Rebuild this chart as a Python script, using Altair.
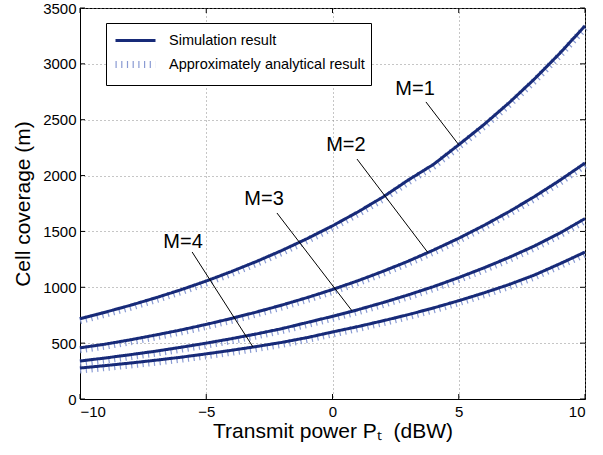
import altair as alt
import pandas as pd

# ---- data ----
x_vals = list(range(-10, 11))
m1 = [719, 777, 839, 906, 978, 1056, 1141, 1232, 1330, 1436, 1550,
      1674, 1808, 1960, 2100, 2276, 2457, 2653, 2865, 3094, 3340]
m2 = [458, 491, 530, 573, 618, 668, 721, 779, 841, 908, 980,
      1058, 1143, 1234, 1333, 1439, 1554, 1678, 1812, 1957, 2112]
m3 = [340, 367, 397, 428, 463, 500, 540, 583, 630, 685, 740,
      799, 863, 932, 1006, 1087, 1174, 1268, 1370, 1485, 1615]
m4 = [277, 299, 322, 347, 374, 404, 436, 470, 507, 550, 600,
      648, 700, 755, 815, 880, 950, 1025, 1110, 1210, 1315]
m_names = ["M=1", "M=2", "M=3", "M=4"]
series_names = ["Simulation result", "Approximately analytical result"]

x_ticks = [-10, -5, 0, 5, 10]
y_ticks = [0, 500, 1000, 1500, 2000, 2500, 3000, 3500]

# annotation labels and leader lines (data coordinates)
label_x = [3.27, 0.53, -2.71, -5.92]
label_y = [2775, 2274, 1790, 1405]
lead_x1 = [3.70, 0.97, -2.20, -5.56]
lead_y1 = [2659, 2148, 1665, 1316]
lead_x2 = [5.00, 3.78, 0.77, -3.15]
lead_y2 = [2276, 1310, 790, 466]

NAVY = "#172a78"
LIGHT = "#8a9bd3"
FONT = "Liberation Sans"
W, H = 505, 391

rows = []
for name, vals in zip(m_names, [m1, m2, m3, m4]):
    for xv, yv in zip(x_vals, vals):
        rows.append({"x": xv, "y": yv, "M": name})
df = pd.DataFrame(rows)
sim_df = df.assign(series=series_names[0])
ana_df = df.assign(series=series_names[1])

xscale = alt.Scale(domain=[-10, 10], nice=False, zero=False)
yscale = alt.Scale(domain=[0, 3500], nice=False)

leg = alt.Legend(title=None, orient="none", legendX=26, legendY=15,
                 strokeColor="black", fillColor="white", padding=6,
                 labelFont=FONT, labelFontSize=14.5, labelColor="black",
                 labelLimit=400,
                 symbolType="M-1,0H3", symbolSize=400, labelOffset=30,
                 rowPadding=3)

def enc(chart):
    return chart.encode(
        x=alt.X("x:Q", scale=xscale,
                axis=alt.Axis(values=x_ticks,
                              title="Transmit power P\u209c\u00a0\u00a0(dBW)",
                              format="d")),
        y=alt.Y("y:Q", scale=yscale,
                axis=alt.Axis(values=y_ticks, title="Cell coverage (m)", format="d")),
        detail="M:N",
        color=alt.Color("series:N", scale=alt.Scale(domain=series_names, range=[NAVY, LIGHT]),
                        legend=leg),
        strokeDash=alt.StrokeDash("series:N",
                                  scale=alt.Scale(domain=series_names, range=[[1, 0], [1.2, 4.5]]),
                                  legend=leg),
        strokeWidth=alt.StrokeWidth("series:N",
                                    scale=alt.Scale(domain=series_names, range=[3, 7]),
                                    legend=leg),
    )

ana = enc(alt.Chart(ana_df).mark_line(yOffset=2, strokeCap="butt"))
sim = enc(alt.Chart(sim_df).mark_line(strokeCap="butt"))

xt = pd.DataFrame({"x": x_ticks})
yt = pd.DataFrame({"y": y_ticks})
tick_b = alt.Chart(xt).mark_rule(color="black", strokeWidth=1).encode(
    x="x:Q", y=alt.value(H), y2=alt.value(H - 5))
tick_t = alt.Chart(xt).mark_rule(color="black", strokeWidth=1).encode(
    x="x:Q", y=alt.value(0), y2=alt.value(5))
tick_l = alt.Chart(yt).mark_rule(color="black", strokeWidth=1).encode(
    y="y:Q", x=alt.value(0), x2=alt.value(5))
tick_r = alt.Chart(yt).mark_rule(color="black", strokeWidth=1).encode(
    y="y:Q", x=alt.value(W - 5), x2=alt.value(W))

ann = pd.DataFrame({"label": m_names, "lx": label_x, "ly": label_y,
                    "x": lead_x1, "y": lead_y1, "x2": lead_x2, "y2": lead_y2})
leaders = alt.Chart(ann).mark_rule(color="black", strokeWidth=1).encode(
    x="x:Q", y="y:Q", x2="x2:Q", y2="y2:Q")
labels = alt.Chart(ann).mark_text(font=FONT, fontSize=20, color="black").encode(
    x="lx:Q", y="ly:Q", text="label:N")

chart = alt.layer(ana, sim, leaders, labels, tick_b, tick_t, tick_l, tick_r).properties(
    width=W, height=H,
    autosize=alt.AutoSizeParams(type="none"),
    padding={"left": 80, "top": 8, "right": 18, "bottom": 56},
).configure_view(stroke="black", strokeWidth=1).configure_axis(
    labelFont=FONT, titleFont=FONT, labelFontSize=15, titleFontSize=21,
    labelColor="black", titleColor="black", titleFontWeight="normal",
    domainColor="black", domainWidth=1, ticks=False,
    grid=True, gridColor="#8c8c8c", gridDash=[1, 3], gridWidth=1,
).configure_axisY(titlePadding=9, labelPadding=4).configure_axisX(
    titlePadding=1, labelPadding=5)

chart.save("out.html", embed_options={"renderer": "svg", "actions": False})
